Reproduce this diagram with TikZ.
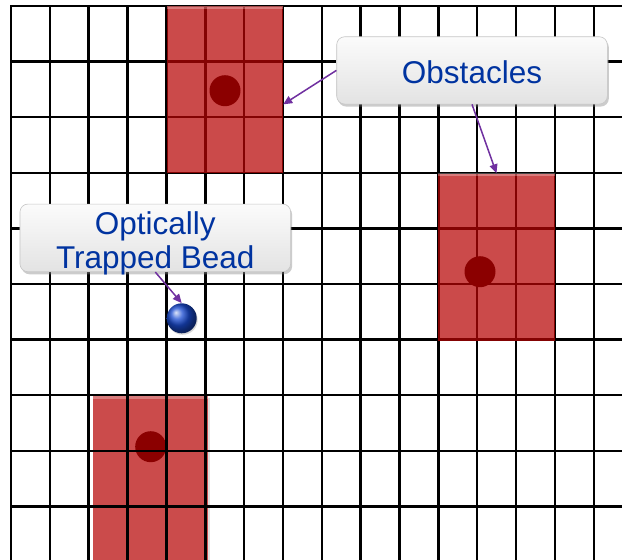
\documentclass[tikz,border=0pt]{standalone}
\usepackage{fontspec}
\setmainfont{Liberation Sans}
\usetikzlibrary{arrows.meta,shadows,calc}
\definecolor{obsred}{RGB}{203,75,75}
\definecolor{obsredT}{RGB}{183,5,5}
\definecolor{dotred}{RGB}{139,0,0}
\definecolor{txtblue}{RGB}{0,51,160}
\definecolor{arrpurple}{RGB}{112,48,160}
\definecolor{beadblue}{RGB}{25,75,210}
\begin{document}
\begin{tikzpicture}[x=1pt,y=-1pt,
  gridline/.style={line width=2.5pt, black, line cap=rect},
  obsbox/.style={rectangle, inner sep=0pt, minimum width=116pt, minimum height=166.7pt},
  obstop/.style={obsbox, fill=obsredT, fill opacity=0.72},
  obsunder/.style={obsbox, fill=obsred, drop shadow={shadow xshift=2pt, shadow yshift=-1.5pt, opacity=0.25}},
  bevel/.style={fill=white, opacity=0.28},
  core/.style={circle, fill=dotred, inner sep=0pt, minimum size=31pt},
  callout/.style={rectangle, rounded corners=8pt, top color=gray!3, bottom color=gray!22, draw=gray!45, line width=0.6pt,
    drop shadow={shadow xshift=1.5pt, shadow yshift=-2.5pt, opacity=0.4}, inner sep=0pt},
  calltext/.style={text=txtblue, font=\fontsize{31.5}{36}\selectfont, inner sep=0pt, anchor=base},
  pointer/.style={draw=arrpurple, line width=1.5pt, -{Triangle[length=9pt,width=8pt]}},
]
\useasboundingbox (0,0) rectangle (622,560);
\fill[white] (0,0) rectangle (622,560);

% obstacle under the grid (bottom left)
\node[obsunder, minimum width=115.6pt, minimum height=166pt] (r3) at (150.5,479) {};
\fill[bevel] (r3.north west) rectangle ++(115.6,3);
\node[core] (c3) at (150.7,446.7) {};

% grid
\foreach \i in {0,...,15}
  \draw[gridline] ({11+38.85*\i},6) -- ({11+38.85*\i},560);
\foreach \j in {0,...,9}
  \draw[gridline] (11,{6+55.6*\j}) -- (622,{6+55.6*\j});

% obstacles over the grid
\node[obstop] (r1) at (225,89.35) {};
\fill[bevel] (r1.north west) rectangle ++(116,3);
\node[core] (c1) at (225,90.7) {};

\node[obstop, minimum width=117pt, minimum height=167pt] (r2) at (496.5,257) {};
\fill[bevel] (r2.north west) rectangle ++(117,3);
\node[core] (c2) at (480,271.7) {};

% bead
\node[circle, minimum size=30pt, inner sep=0pt, shading=ball, ball color=beadblue,
  drop shadow={shadow xshift=1pt, shadow yshift=-1.5pt, opacity=0.3}] (bead) at (181.7,318.3) {};

% callouts
\node[callout, minimum width=270.6pt, minimum height=67.3pt] (obs) at (472,70.4) {};
\node[calltext] (obstxt) at (472,83.3) {Obstacles};
\node[callout, minimum width=270.7pt, minimum height=67.7pt] (beadlbl) at (155.3,237.9) {};
\node[calltext] (beadtxt1) at (155.3,234.3) {Optically};
\node[calltext] (beadtxt2) at (155.3,268.3) {Trapped Bead};

% pointers
\draw[pointer] (obs.west) -- ($(r1.south east)!0.41!(r1.north east)$);
\draw[pointer] (obs.south) -- (r2.north);
\draw[pointer] (beadlbl.south) -- (bead.north);
\end{tikzpicture}
\end{document}
